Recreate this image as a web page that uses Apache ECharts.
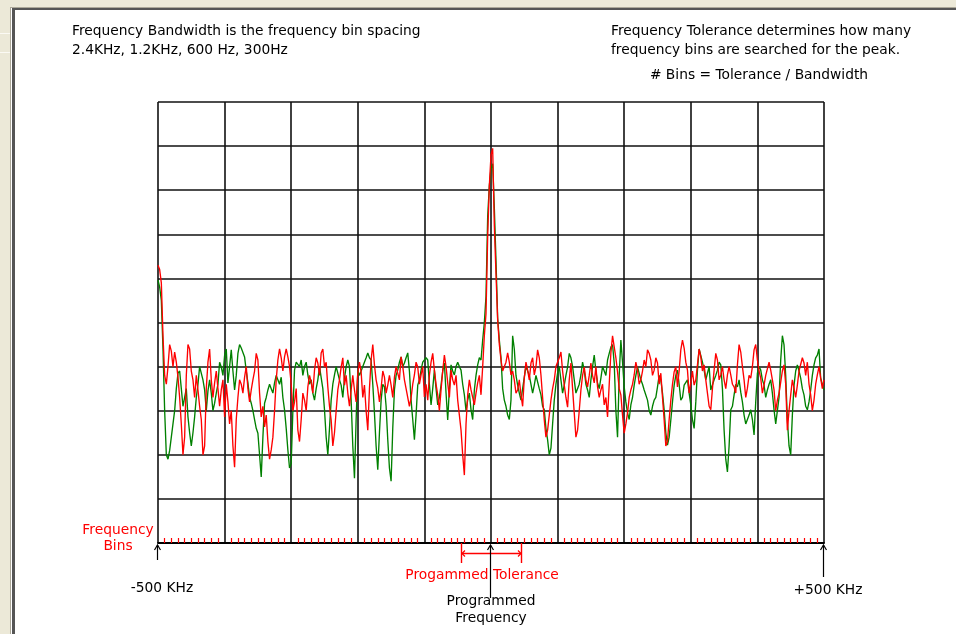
<!DOCTYPE html>
<html><head><meta charset="utf-8">
<script src="https://cdn.jsdelivr.net/npm/echarts@6/dist/echarts.min.js"></script>
<style>html,body{margin:0;padding:0;background:#fff}#c{width:956px;height:634px}</style>
</head><body><div id="c"></div>
<script>
// ---- data ----
const freqStart = -500, freqEnd = 500;          // KHz offset from programmed frequency
const gridStep = 100;                            // grid column width (KHz)
const binStep = 10;                              // frequency bin spacing marks (KHz)
const levelMin = 0, levelMax = 100, levelStep = 10;

const redLevels = [
63,62,59,47,38,36,40,45,43.5,40,43.3,41,37.6,33,27,20,24,38,45,44,
39,37,33,38,34.7,31,28,20,22,35,41,44,37,33,36.3,39,35,31,34.7,37,
28.6,36,32,27,30,22,17.2,28,33,37,36,34,37.6,40,35,32,34.7,37,39,43,
41.5,34,28.6,31,26.3,29,23,19,21.1,24,30,37,41.5,44,42,39,42.2,44,42.2,40,
36,30,32,35,25.6,23,28,34,32.4,30,35.4,38,36.5,34,39.2,42,40.8,38,43.1,44,
39.9,41,35.4,31,27.9,22,25,30,34.7,37,39.9,42,35.8,38,34,31,34.7,38,34.7,32,
38.5,41,38.8,33,35.8,30,25.6,35,41.5,45,40.4,37,35.1,32,35.1,39,37.6,34,35.8,38,
35.8,33,37.6,40,40.4,37,42.2,40,37,35,34.7,31,32.9,36,38.1,41,39.9,36,38.1,40,
33.1,36,32.4,38,41,43,39.2,36,33.6,30,34.7,39,42.6,40,36.3,33,39.2,37,35.8,38,
32.4,29,25.6,20,15.4,27,33.6,37,34.7,33,31.3,34,36.3,38,33.6,40,47,52,69.4,81,
88,89.5,72,61,50.6,45,41.5,39,39.2,41,43.1,41,38.1,39,37,34,34.7,37,33.6,31,
37.4,41,39.2,37,40.8,42,38.1,40,43.8,42,38.1,33,27.9,24,25.6,29,32.4,35,37,40,
39.9,42,43.3,39,35.8,33,30.8,37,40.8,35,29.5,24,25.6,30,34.7,38,39.9,37,35.4,38,
40.8,38,36.3,40,35.4,33,34.7,36,31.3,33,28.6,36,43.1,47,46.9,42,38.8,35,33.6,29,
24.9,27,29.5,33,34.7,36,38.1,41,39.2,36,37,39,41.5,40,43.8,43,41.5,38,39.2,42,
40.8,36,38.5,33,27.9,22,23.1,28,32.4,36,38.8,40,35.4,39,43.8,46,44.2,41,39.2,34,
36.3,39,35.8,37,40.4,44,42.2,39,40.4,37,34,31,30.2,35,39.2,43,41.5,37,38.1,40,
37,35,38.1,40,38.1,36,35.4,34,40.4,45,43.3,40,37,33,35.1,38,37.4,40,43.8,45,
41.5,39,37.4,34,35.8,38,37.6,41,39.2,37,34.7,30,32.4,34,36.5,39,40.4,36,25.6,30,
33.6,37,35.1,33,35.8,39,38.8,42,40.8,38,41,36,33.6,30,32.4,36,38.1,40,37.4,35,
37];

const greenLevels = [
59.6,58,55,44,30,20,19,21,24,27,30,35,38.5,39,35,31,33,35,28.6,25,
22,25,28.6,33,36,40,39.9,37,34.7,30,34.5,37,34,30,31.7,34,36,41,39.9,38,
42.5,44,36.3,40,43.8,39,34.7,38,43,45,44.2,44,42.2,39,36.3,33,31.7,30,28,26,
24.9,20,15,24,31.7,33,34.7,36,35,34,36.3,38,37,36,37.6,33,30.2,26,21.1,17,
18,30,39.2,41,40.8,40,41.5,38,40,41,38.1,36,37,34,32.4,35,37,40,39.9,35,
30.2,24,20,26,32.4,36,38.1,40,39.9,37,35.8,33,37.4,40,41.5,40,32.4,22,14.7,28,
39.2,38,37.6,40,39.9,42,43.1,42,41.5,36,29.5,22,16.6,25,32.4,36,35.4,31,23.4,17,
14,26,34.7,38,39.2,41,42.2,40,40.8,42,43.1,39,32.4,28,23.4,29,35.8,37,39.2,41,
40.8,42,41.5,36,31.3,35,39.2,35,31.3,33,35.8,39,40.8,34,27.9,35,40.4,39,38.1,40,
41,40,39.2,36,33.6,30,32.4,34,30.2,28,34.7,38,40.4,42,41.5,46,50,56,74,81,
85,86,76,64,51,46,42,35,32.4,31,29,28,32.4,47,44,38,35.8,34,32.4,35,
37.6,40,40.4,38,38.1,34,35.8,38,37.6,35,33.6,31,30.2,26,23.4,20,21.5,27,32.4,36,
38.5,40,37,34,35.8,38,39.9,43,42,40,37,34,33.6,36,38.1,41,39.2,36,34.7,33,
37,40,42.6,39,36.3,35,37.4,40,39.7,38,41.5,43,44.4,45,40.8,30,24,38,46,41,
35.4,32,29.5,28,31.3,33,35.8,38,39.9,40,37,36,34.7,35,32.4,30,29,31,32.4,33,
35.4,38,37,34,30.2,25,22.2,24,27.9,32,35.8,38,39.2,36,32.4,33,35.8,36,37,34,
31.3,28,26,32,39.2,44,43.8,41,39.2,37,38.5,40,34.7,35,37,38,39.2,41,40.4,35,
25.6,19,16.1,22,30.2,31,33.6,36,35.4,37,34.2,32,29,27,26.8,29,30.2,28,24.5,32,
38.5,40,39.2,37,35.8,33,34.7,36,37,34,30.2,27,26.8,33,41.5,47,44.9,38,27.9,22,
20,29,35.8,39,40.4,39,37.4,35,33.6,31,30.2,32,34.7,38,40.4,42,42.6,44,37.4,36,
34.7];

const endLabels = ['-500 KHz', '+500 KHz'];
const programmedFreq = 0;
const toleranceRange = [-45, 45];
const binsLabel = ['Frequency', 'Bins'];
const toleranceLabel = 'Progammed Tolerance';
const programmedLabel = ['Programmed', 'Frequency'];
const notesLeft = ['Frequency Bandwidth is the frequency bin spacing', '2.4KHz, 1.2KHz, 600 Hz, 300Hz'];
const notesRight = ['Frequency Tolerance determines how many', 'frequency bins are searched for the peak.'];
const formulaLabel = '# Bins = Tolerance / Bandwidth';

// ---- build ----
function toPairs(arr){
  const n = arr.length;
  return arr.map((v,i)=>[freqStart + (freqEnd-freqStart)*i/(n-1), v]);
}
const binTicks = [];
for (let f = freqStart + binStep; f < freqEnd; f += binStep) {
  if (Math.round(f) % gridStep !== 0) binTicks.push(Math.round(f));
}

const FONT = '13.8px "DejaVu Sans"';
const chart = echarts.init(document.getElementById('c'), null, {renderer:'canvas'});
const option = {
  animation: false,
  backgroundColor: '#fff',
  grid: {left:158, top:102, width:666, height:441, show:false},
  xAxis: [
    {type:'value', min:freqStart, max:freqEnd, interval:gridStep,
     axisLabel:{show:false}, axisTick:{show:false},
     axisLine:{show:true, onZero:false, lineStyle:{color:'#000', width:2}},
     splitLine:{show:true, lineStyle:{color:'#111', width:1.6}}},
    {type:'value', min:freqStart, max:freqEnd, position:'bottom',
     axisLabel:{show:false}, axisLine:{show:false}, splitLine:{show:false},
     axisTick:{show:true, inside:true, length:5, customValues:binTicks,
               lineStyle:{color:'#ff0000', width:1.2}}}
  ],
  yAxis: {type:'value', min:levelMin, max:levelMax, interval:levelStep,
    axisLabel:{show:false}, axisTick:{show:false}, axisLine:{show:false},
    splitLine:{show:true, lineStyle:{color:'#111', width:1.6}}},
  series: [
    {type:'line', name:'green', data:toPairs(greenLevels), symbol:'none',
     lineStyle:{color:'#008000', width:1.35}, z:3},
    {type:'line', name:'red', data:toPairs(redLevels), symbol:'none',
     lineStyle:{color:'#ff0000', width:1.35}, z:4}
  ]
};
chart.setOption(option);

const X = v => chart.convertToPixel({xAxisIndex:0}, v);
const Y = v => chart.convertToPixel({yAxisIndex:0}, v);
const yb = Y(levelMin);
const els = [];
// window frame
els.push({type:'rect', shape:{x:0,y:0,width:956,height:7}, style:{fill:'#ece9d8'}, z:100});
els.push({type:'rect', shape:{x:0,y:0,width:10,height:634}, style:{fill:'#ece9d8'}, z:100});
els.push({type:'rect', shape:{x:10,y:7,width:946,height:1}, style:{fill:'#aca899'}, z:101});
els.push({type:'rect', shape:{x:11,y:8,width:945,height:2}, style:{fill:'#555'}, z:101});
els.push({type:'rect', shape:{x:10,y:7,width:1,height:627}, style:{fill:'#aca899'}, z:101});
els.push({type:'rect', shape:{x:11,y:8,width:1,height:626}, style:{fill:'#fff'}, z:101});
els.push({type:'rect', shape:{x:12,y:8,width:3,height:626}, style:{fill:'#555'}, z:101});
els.push({type:'rect', shape:{x:0,y:33,width:10,height:1}, style:{fill:'#fbfaf4'}, z:101});
els.push({type:'rect', shape:{x:0,y:52,width:10,height:1}, style:{fill:'#fbfaf4'}, z:101});

function txt(x,y,s,color,align){
  els.push({type:'text', x:x, y:y, z:50, style:{text:s, fill:color||'#000', font:FONT,
    textAlign:align||'left', textVerticalAlign:'middle'}});
}
function ln(x1,y1,x2,y2,color,w){
  els.push({type:'line', z:40, shape:{x1,y1,x2,y2}, style:{stroke:color, lineWidth:w||1}});
}
function upArrow(x, y0, len){
  ln(x+0.5, y0+2, x+0.5, y0+len, '#000', 1.2);
  els.push({type:'polyline', z:40, shape:{points:[[x-2.5,y0+7],[x+0.5,y0+2],[x+3.5,y0+7]]}, style:{stroke:'#000', lineWidth:1.2, fill:null}});
}
// notes
txt(72, 31, notesLeft[0]); txt(72, 50, notesLeft[1]);
txt(611, 31, notesRight[0]); txt(611, 50, notesRight[1]);
txt(759, 75, formulaLabel, '#000', 'center');
// bins label
const xL = X(freqStart), xR = X(freqEnd), xP = X(programmedFreq);
txt(xL-40, yb-13, binsLabel[0], '#ff0000', 'center');
txt(xL-40, yb+3, binsLabel[1], '#ff0000', 'center');
// end arrows
upArrow(Math.round(xL)-1, yb, 17);
upArrow(Math.round(xR)-1, yb, 34);
txt(xL+4, yb+45, endLabels[0], '#000', 'center');
txt(xR+4, yb+47, endLabels[1], '#000', 'center');
// tolerance bracket
const t0 = Math.round(X(toleranceRange[0])), t1 = Math.round(X(toleranceRange[1]));
ln(t0+0.5, yb, t0+0.5, yb+20, '#ff0000', 1.4);
ln(t1+0.5, yb, t1+0.5, yb+20, '#ff0000', 1.4);
ln(t0, yb+10.5, t1, yb+10.5, '#ff0000', 1.4);
els.push({type:'polyline', z:40, shape:{points:[[t0+4,yb+7.5],[t0+1,yb+10.5],[t0+4,yb+13.5]]}, style:{stroke:'#ff0000', lineWidth:1.2, fill:null}});
els.push({type:'polyline', z:40, shape:{points:[[t1-3,yb+7.5],[t1,yb+10.5],[t1-3,yb+13.5]]}, style:{stroke:'#ff0000', lineWidth:1.2, fill:null}});
txt(xP-9, yb+32, toleranceLabel, '#ff0000', 'center');
// programmed frequency arrow + label
upArrow(Math.round(xP)-1, yb, 55);
txt(xP, yb+58, programmedLabel[0], '#000', 'center');
txt(xP, yb+75, programmedLabel[1], '#000', 'center');

chart.setOption({graphic:{elements:els}});
</script></body></html>
